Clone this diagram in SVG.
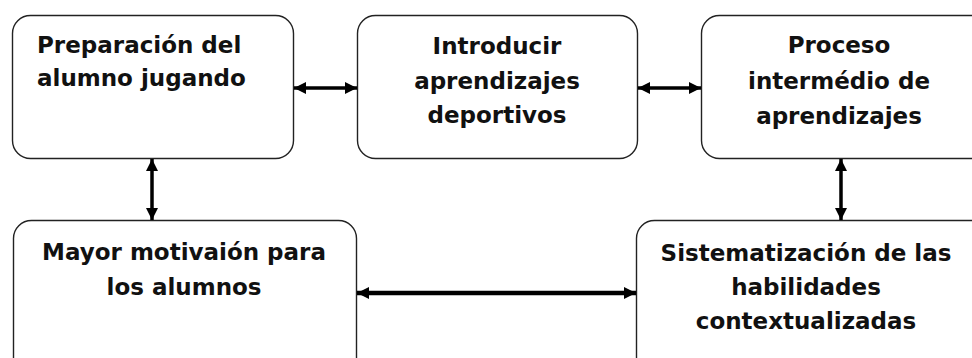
<svg xmlns="http://www.w3.org/2000/svg" width="972" height="358" viewBox="0 0 972 358">
<defs>
<style>
.box{fill:#fff;stroke:#222;stroke-width:1.4}
.t{font-family:"DejaVu Sans","Liberation Sans",sans-serif;font-weight:bold;font-size:23px;fill:#111}
.m{text-anchor:middle}
.c{stroke:#000;stroke-width:3.5;fill:none;marker-start:url(#ah);marker-end:url(#ah)}
</style>
<marker id="ah" viewBox="0 0 12 12" refX="12" refY="6" markerWidth="12" markerHeight="12" markerUnits="userSpaceOnUse" orient="auto-start-reverse">
<path d="M0,0 L12,6 L0,12 Z" fill="#000"/>
</marker>
</defs>
<rect width="972" height="358" fill="#fff"/>
<g id="n1"><rect class="box" x="12.5" y="15.5" width="281" height="143" rx="18"/>
<text class="t" x="37" y="53">Preparación del</text><text class="t" x="37" y="86">alumno jugando</text></g>
<g id="n2"><rect class="box" x="357.5" y="15.5" width="280" height="143" rx="18"/>
<text class="t m" x="497" y="54">Introducir</text><text class="t m" x="497" y="89">aprendizajes</text><text class="t m" x="497" y="123">deportivos</text></g>
<g id="n3"><rect class="box" x="701.5" y="15.5" width="290" height="143" rx="18"/>
<text class="t m" x="839" y="53">Proceso</text><text class="t m" x="839" y="89">intermédio de</text><text class="t m" x="839" y="124">aprendizajes</text></g>
<g id="n4"><rect class="box" x="13.5" y="220.5" width="343" height="160" rx="18"/>
<text class="t m" x="184" y="260">Mayor motivaión para</text><text class="t m" x="184" y="295">los alumnos</text></g>
<g id="n5"><rect class="box" x="636.5" y="220.5" width="360" height="160" rx="18"/>
<text class="t m" x="806" y="261">Sistematización de las</text><text class="t m" x="806" y="295">habilidades</text><text class="t m" x="806" y="329">contextualizadas</text></g>
<g id="connectors">
<line class="c" x1="294" y1="88" x2="357" y2="88"/>
<line class="c" x1="638" y1="88" x2="701" y2="88"/>
<line class="c" x1="152" y1="159" x2="152" y2="220"/>
<line class="c" x1="841" y1="159" x2="841" y2="220"/>
<line class="c" x1="357" y1="293" x2="636" y2="293" style="stroke-width:4.5"/>
</g>
</svg>
